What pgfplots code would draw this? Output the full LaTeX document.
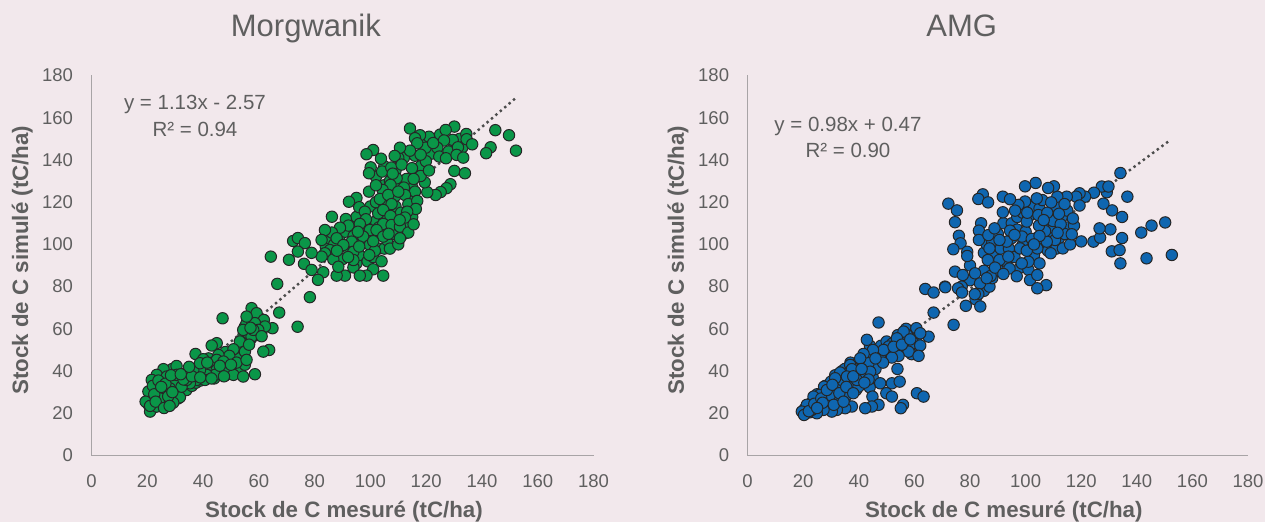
\documentclass[border=0pt]{standalone}
\usepackage{fontspec}
\usepackage{pgfplots}
\usepackage{pgfplotstable}
\pgfplotsset{compat=1.18}
\setmainfont{Liberation Sans}
\definecolor{bg}{HTML}{F2E8EC}
\definecolor{txt}{HTML}{5F5F5F}
\definecolor{axisgrey}{HTML}{A8A4A6}
\definecolor{mgreen}{HTML}{0A9648}
\definecolor{mblue}{HTML}{0F66B0}

% Morgwanik
\pgfplotstableread{
x y
20.5 24
21.5 27.5
22.5 31
23.5 34
24.5 37
25.5 38.5
21 28
22 22.5
22.5 26
23.5 28.5
24 30
25 26
26 28
26.5 31
27 33.5
27.5 36
28 39.5
29 41
29.5 36.5
30 32
30.5 29
31 27
32 30.5
32.5 35
33 33
34 31
35 36
35.5 39
36 33
37 38
37.5 34.5
38 39
39 35.5
39.5 42
40 37.5
41 39.5
42 46
42 37
43 40
43.5 44
44 36.5
45 42
46 38.5
46 44
47 40
47 47
48 38
48 49
49 42
50 46
51 41
52 48
53 40
53 46
54 51
55 43
56 55
54.5 57
55 61
57 63
59 61
60 60
61 59
59 57
57 55
56 64
58 65
60 64
84 99
85 103
87 100
89 104
90 93
91 106
92 98
93 111
94 104
95 91
95 113
96 95
97 101
98 108
99 92
99 104
100 110
100 118
101 94
101 105
102 111
102 120
103 98
103 108
104 92
105 112
105 119
105 98
106 102
106 108
107 98
107 116
108 105
108 111
109 118
109 123
110 100
111 115
112 105
113 110
114 123
115 113
115 127
116 125
110 129
105 128
113 131
109 135
112 141
116 142
120 148
125 152
130 146
122 143
128 144
132 150
133 146
121 151
118 137
110 141
105 137
102 132
107 130
144.8 154.1
149.7 151.7
152.2 144.4
143.1 146.0
141.5 143.2
130.1 155.8
127.0 154.2
114.2 154.9
117.8 151.7
116.0 150.3
134.4 152.3
134.5 149.8
136.5 147.4
129.5 149.5
126.4 149.2
124.0 145.8
119.8 145.8
116.8 147.9
114.2 144.4
110.6 145.8
108.7 141.9
103.8 140.6
101.0 144.7
98.6 142.7
100.1 136.5
99.5 133.7
104.2 134.5
107.5 136.4
111.2 137.8
114.9 136.1
119.9 139.4
124.7 141.6
127.1 140.8
131.4 146.0
130.9 142.4
133.3 141.1
130.1 134.8
133.9 133.7
128.7 128.5
127.3 126.6
125.2 124.8
123.4 123.4
120.4 124.7
119.5 129.4
118.0 132.4
109.4 131.3
107.2 128.2
112.0 126.9
104.4 125.8
99.5 125.0
103.4 121.5
106.4 123.4
112.4 123.4
107.6 119.1
113.6 119.1
116.8 120.6
116.3 116.8
113.2 115.5
112.4 112.7
95.0 122.0
92.3 120.2
96.0 117.6
86.2 113.1
98.0 115.5
102.8 114.7
104.6 116.3
107.2 113.5
91.2 112.0
98.4 111.9
104.6 109.7
96.2 109.7
92.1 108.9
89.1 107.9
86.2 105.6
83.7 106.8
82.5 102.1
87.9 102.9
93.3 101.3
99.8 106.8
102.2 106.8
107.6 109.2
110.6 108.4
113.6 105.6
110.6 102.9
104.6 103.7
97.4 103.7
99.8 99.7
101.6 97.0
99.6 95.0
93.9 96.5
90.3 99.7
85.5 97.3
83.7 95.8
86.7 92.9
82.5 94.2
93.9 89.1
101.0 88.2
104.6 85.2
98.6 85.2
96.2 85.2
90.9 85.2
87.9 85.2
83.1 86.8
88.5 89.4
93.9 92.6
110.0 125.0
115.5 131.0
121.0 135.0
108.0 133.5
102.0 128.0
95.5 106.0
101.0 101.5
106.5 105.0
88.0 97.0
92.0 94.0
96.0 99.0
110.5 111.5
115.5 109.5
118.0 142.5
122.5 148.0
64.3 94.2
70.8 92.7
66.6 81.3
72.3 101.6
74.0 103.0
76.5 100.6
74.0 96.6
78.9 96.0
76.2 90.8
78.9 87.9
81.2 83.2
78.3 75.0
73.9 61.0
67.3 67.7
47.0 65.0
57.4 69.8
59.2 67.4
61.8 64.2
64.9 60.3
63.7 50.0
61.6 49.2
58.6 38.5
55.6 62.7
58.6 62.7
56.2 57.9
57.4 56.3
60.4 58.7
54.4 59.5
62.2 61.1
59.8 59.5
58.0 59.5
55.6 65.8
53.2 54.0
50.9 50.3
55.0 49.2
49.4 47.2
52.0 44.0
55.6 45.3
44.9 53.2
43.1 52.1
45.5 47.6
44.9 45.3
37.3 48.1
40.1 45.6
42.5 42.1
44.9 40.5
48.5 40.9
50.9 38.2
54.4 37.4
44.3 38.2
41.3 38.2
37.7 35.8
35.3 34.2
33.8 39.0
30.5 42.4
25.8 40.9
23.4 38.2
21.6 35.8
20.4 30.3
23.4 31.1
30.0 35.0
28.1 31.8
31.7 27.6
29.3 25.0
26.4 25.0
21.9 26.3
19.4 25.5
21.0 20.8
23.4 23.2
25.8 29.5
27.0 37.4
32.3 32.6
38.9 40.5
36.5 40.5
40.7 35.8
47.3 44.5
38.9 43.7
34.1 35.8
30.5 38.2
22.0 33.0
24.0 35.5
26.5 34.0
28.5 38.0
24.5 27.0
27.5 28.0
22.5 29.0
29.0 30.0
25.0 32.5
21.0 23.5
23.0 25.5
26.0 22.5
28.0 23.5
33.0 36.0
36.0 37.5
39.0 37.0
43.0 36.5
46.0 42.5
47.5 37.5
41.5 44.0
35.0 42.0
32.0 38.5
50.0 43.0
57.0 60.5
61.0 56.5
56.5 52.5
}\tableM

% AMG
\pgfplotstableread{
x y
20.5 22
21 20
22 23
22.5 20.5
23 25
24 22
24.5 26
25 29
25.5 21
26 23
27 30
27 26.5
28 23
28 33
29 27
29.5 22
30 31
30 35
30.5 25
31 28
31.5 38
32 33
33 23
33 36
33.5 28
34 40
34 30
35 25
35 41
36 33
36 37
37 30
37 44
38 35
38 39
39 43
39 31
40 37
40 42
41 34
41 45
42 39
42 43
43 47
43 38
44 52
44 42
45 46
45 37
46 41
46 50
47 46
48 52
49 47
50 54
51 49
52 53
53 51
54 57
55 50
56 54
57 60
58 56
59 48
60 58
60 55
61 53
84 110
85 96
86 100
88 101
89 95
90 105
91 98
92 110
93 92
94 98
95 103
95 110
96 94
97 107
97 113
98 89
99 100
99 115
100 106
101 88
101 113
102 98
103 118
103 95
104 103
105 117
105 91
106 100
106 121
107 110
108 97
108 104
109 114
110 108
111 118
111 98
112 103
113 113
115 116
115 108
82 74
85 78
87 80
88 84
90 88
80 83
80 90
134.1 133.8
136.6 122.6
150.2 110.4
145.3 108.9
141.6 105.6
152.6 95.0
143.5 93.4
134.1 91.0
134.7 103.0
131.0 96.7
133.8 97.3
130.5 107.1
134.7 113.0
131.1 116.1
128.0 119.3
129.2 124.7
127.4 127.4
129.8 127.4
124.6 124.5
121.4 122.6
119.4 124.2
118.2 122.6
119.4 118.4
114.8 122.6
111.4 122.6
110.2 127.5
108.1 126.7
103.6 129.1
99.8 127.5
104.0 121.8
99.8 120.3
97.4 118.7
91.8 122.6
94.4 121.4
84.6 123.7
83.0 121.5
86.5 119.9
72.2 119.3
75.3 116.1
74.6 110.5
76.0 104.1
76.6 100.5
74.0 97.7
79.0 96.5
79.0 94.5
83.2 106.5
83.2 102.1
86.6 104.4
88.8 107.6
94.4 106.5
93.2 101.3
87.0 98.1
86.4 92.6
90.6 92.6
93.8 94.2
101.0 91.8
98.6 91.0
94.2 88.6
85.0 87.5
81.8 86.3
74.6 87.1
77.4 85.5
87.4 85.0
83.6 81.5
71.0 80.0
77.0 80.0
96.8 84.9
101.6 83.1
104.2 85.5
107.4 80.7
104.2 79.2
104.2 98.1
109.0 95.8
113.4 98.1
116.0 100.0
120.0 101.4
124.4 101.3
126.8 103.2
126.6 107.6
117.4 108.9
117.0 112.3
114.1 104.9
116.6 104.8
110.6 102.1
107.6 101.3
98.7 103.7
102.2 102.6
107.0 106.3
104.8 108.9
109.8 111.1
112.6 109.5
100.4 110.8
100.6 115.0
104.6 113.9
107.8 115.0
109.2 119.9
114.0 119.1
96.2 116.0
91.8 115.2
98.0 98.1
100.4 97.0
90.6 102.1
105.0 104.0
111.5 105.5
103.0 100.0
96.0 104.5
112.0 114.5
106.5 111.5
89.0 89.0
92.0 86.0
83.0 76.5
86.0 84.0
63.9 78.9
66.9 77.2
71.1 79.7
75.7 79.2
77.1 77.2
81.7 76.4
78.5 70.9
83.7 70.6
66.9 67.7
74.1 61.9
47.1 63.0
60.7 60.3
65.1 56.3
62.1 57.9
57.3 57.1
56.1 58.7
53.7 55.5
59.7 53.2
62.1 52.1
57.9 49.2
61.5 47.2
54.3 47.2
51.9 46.4
50.7 51.6
48.9 50.0
42.9 54.8
45.1 50.0
41.7 48.1
48.7 44.0
43.5 43.7
40.5 46.0
36.9 42.9
33.3 39.3
37.5 40.9
53.9 41.0
44.1 39.7
40.5 38.2
47.7 34.2
51.9 34.2
54.7 35.0
43.9 32.3
37.5 32.6
39.9 32.6
34.5 34.2
31.5 36.6
27.5 32.6
32.1 31.0
25.9 28.7
23.7 27.9
49.9 29.5
51.9 27.9
44.9 27.9
60.9 29.5
63.3 27.9
47.1 24.0
44.7 23.2
42.3 22.4
55.9 24.0
55.1 22.4
37.5 23.2
35.1 22.4
32.1 21.6
30.3 20.8
29.1 24.7
27.3 21.6
24.9 20.0
21.3 24.0
19.5 20.8
20.3 19.2
23.1 21.6
26.1 24.7
32.1 26.3
35.7 28.7
29.7 28.7
39.3 35.8
35.7 37.4
22.0 21.0
24.0 24.5
26.5 27.0
28.5 31.0
30.5 33.5
33.0 29.5
35.5 32.5
38.0 37.5
41.0 41.0
43.5 36.0
46.0 46.0
52.5 51.5
55.5 52.5
58.5 55.0
38.0 29.5
42.0 34.5
31.0 24.0
34.5 25.5
27.0 25.0
25.0 22.5
}\tableA

\pgfplotsset{
  panel/.style={
    scale only axis, height=380pt,
    xmin=0, xmax=180, ymin=0, ymax=180,
    xtick={0,20,...,180}, ytick={0,20,...,180},
    axis x line=bottom, axis y line=left,
    axis line style={draw=axisgrey, line width=1pt, -},
    major tick length=0pt,
    /pgf/number format/assume math mode=true,
    tick label style={font=\fontsize{18.5}{20}\selectfont, text=txt},
    xticklabel style={yshift=-16pt},
    yticklabel style={xshift=-15pt},
    label style={font=\fontsize{22.3}{24}\selectfont\bfseries, text=txt},
    title style={font=\fontsize{31}{34}\selectfont, text=txt, anchor=base},
    clip=false,
  },
  dots/.style={only marks, mark=*, mark size=5.7pt,
    mark options={draw=black!85, line width=1pt, fill=#1}},
  trend/.style={dash pattern=on 2.4pt off 3.4pt, line width=2.4pt, draw=black!70, forget plot},
}
\tikzset{eq/.style={font=\fontsize{20.5}{22}\selectfont, text=txt}}

\begin{document}
\begin{tikzpicture}[x=1pt,y=1pt]
\fill[bg] (0,0) rectangle (1265,522);
\useasboundingbox (0,0) rectangle (1265,522);

\begin{axis}[panel, name=left, at={(91.5pt,66.5pt)}, anchor=origin, width=502pt,
  title={Morgwanik},
  title style={at={(axis description cs:0.427,1.088)}},
  xlabel={Stock de C mesuré (tC/ha)},
  ylabel={Stock de C simulé (tC/ha)},
  xlabel style={at={(axis description cs:0.503,-0.149)}, anchor=center},
  ylabel style={at={(axis description cs:-0.138,0.514)}, anchor=center},
]
  \addplot[trend] coordinates {(20,20.03) (152,169.2)};
  \addplot[dots=mgreen] table[x=x,y=y] {\tableM};
  \node[eq] at (axis cs:37.1,166.1) {y = 1.13x - 2.57};
  \node[eq] at (axis cs:37.1,154.3) {R² = 0.94};
\end{axis}

\begin{axis}[panel, name=right, at={(747.6pt,66.5pt)}, anchor=origin, width=500.4pt,
  title={AMG},
  title style={at={(axis description cs:0.428,1.088)}},
  xlabel={Stock de C mesuré (tC/ha)},
  ylabel={Stock de C simulé (tC/ha)},
  xlabel style={at={(axis description cs:0.512,-0.149)}, anchor=center},
  ylabel style={at={(axis description cs:-0.139,0.514)}, anchor=center},
]
  \addplot[trend] coordinates {(20,20.07) (152,149.4)};
  \addplot[dots=mblue] table[x=x,y=y] {\tableA};
  \node[eq] at (axis cs:36.1,155.7) {y = 0.98x + 0.47};
  \node[eq] at (axis cs:36.1,144.3) {R² = 0.90};
\end{axis}
\end{tikzpicture}
\end{document}
